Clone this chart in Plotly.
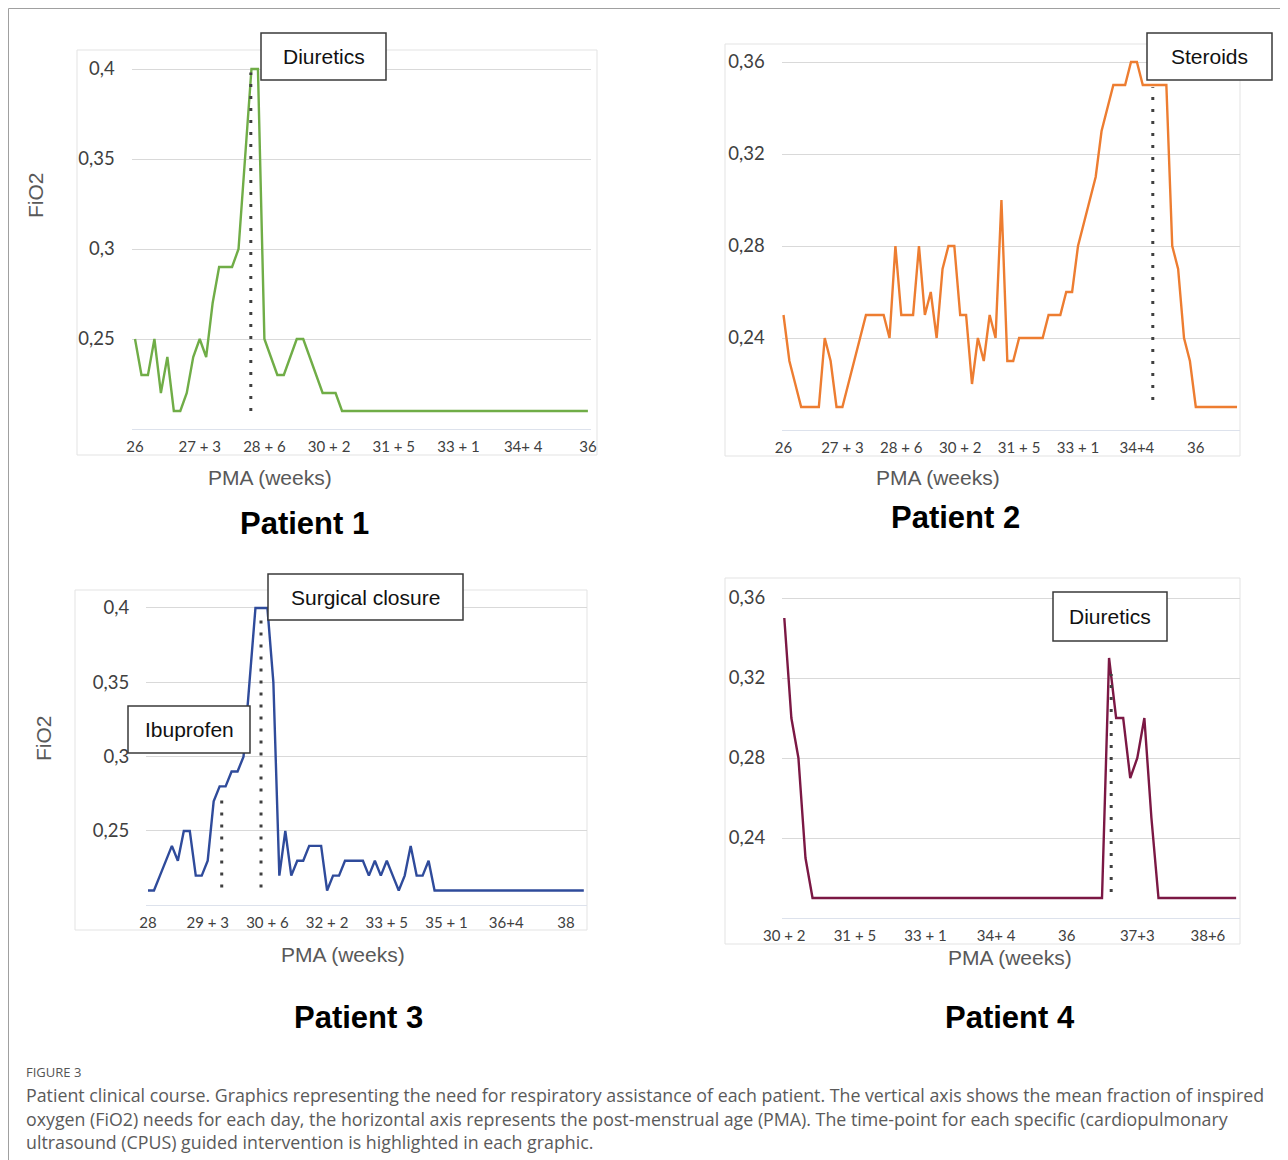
import plotly.graph_objects as go

# the page body adds an 8px margin; the figure is sized and laid out to compensate
OFF = 8
W, H = 1288 - OFF, 1160 - OFF

# ---------------- data ----------------
p1_ticks = ["26", "27 + 3", "28 + 6", "30 + 2", "31 + 5", "33 + 1", "34+ 4", "36"]
p2_ticks = ["26", "27 + 3", "28 + 6", "30 + 2", "31 + 5", "33 + 1", "34+4", "36"]
p3_ticks = ["28", "29 + 3", "30 + 6", "32 + 2", "33 + 5", "35 + 1", "36+4", "38"]
p4_ticks = ["30 + 2", "31 + 5", "33 + 1", "34+ 4", "36", "37+3", "38+6"]

p1_fio2 = [0.25, 0.23, 0.23, 0.25, 0.22, 0.24, 0.21, 0.21, 0.22, 0.24,
           0.25, 0.24, 0.27, 0.29, 0.29, 0.29, 0.30, 0.35, 0.40, 0.40,
           0.25, 0.24, 0.23, 0.23, 0.24, 0.25, 0.25, 0.24, 0.23, 0.22,
           0.22, 0.22, 0.21, 0.21, 0.21, 0.21, 0.21, 0.21, 0.21, 0.21,
           0.21, 0.21, 0.21, 0.21, 0.21, 0.21, 0.21, 0.21, 0.21, 0.21,
           0.21, 0.21, 0.21, 0.21, 0.21, 0.21, 0.21, 0.21, 0.21, 0.21,
           0.21, 0.21, 0.21, 0.21, 0.21, 0.21, 0.21, 0.21, 0.21, 0.21,
           0.21]

p2_fio2 = [0.25, 0.23, 0.22, 0.21, 0.21, 0.21, 0.21, 0.24, 0.23, 0.21,
           0.21, 0.22, 0.23, 0.24, 0.25, 0.25, 0.25, 0.25, 0.24, 0.28,
           0.25, 0.25, 0.25, 0.28, 0.25, 0.26, 0.24, 0.27, 0.28, 0.28,
           0.25, 0.25, 0.22, 0.24, 0.23, 0.25, 0.24, 0.30, 0.23, 0.23,
           0.24, 0.24, 0.24, 0.24, 0.24, 0.25, 0.25, 0.25, 0.26, 0.26,
           0.28, 0.29, 0.30, 0.31, 0.33, 0.34, 0.35, 0.35, 0.35, 0.36,
           0.36, 0.35, 0.35, 0.35, 0.35, 0.35, 0.28, 0.27, 0.24, 0.23,
           0.21, 0.21, 0.21, 0.21, 0.21, 0.21, 0.21, 0.21]

p3_fio2 = [0.21, 0.21, 0.22, 0.23, 0.24, 0.23, 0.25, 0.25, 0.22, 0.22,
           0.23, 0.27, 0.28, 0.28, 0.29, 0.29, 0.30, 0.35, 0.40, 0.40,
           0.40, 0.35, 0.22, 0.25, 0.22, 0.23, 0.23, 0.24, 0.24, 0.24,
           0.21, 0.22, 0.22, 0.23, 0.23, 0.23, 0.23, 0.22, 0.23, 0.22,
           0.23, 0.22, 0.21, 0.22, 0.24, 0.22, 0.22, 0.23, 0.21, 0.21,
           0.21, 0.21, 0.21, 0.21, 0.21, 0.21, 0.21, 0.21, 0.21, 0.21,
           0.21, 0.21, 0.21, 0.21, 0.21, 0.21, 0.21, 0.21, 0.21, 0.21,
           0.21, 0.21, 0.21, 0.21]

p4_fio2 = [0.35, 0.30, 0.28, 0.23, 0.21, 0.21, 0.21, 0.21, 0.21, 0.21,
           0.21, 0.21, 0.21, 0.21, 0.21, 0.21, 0.21, 0.21, 0.21, 0.21,
           0.21, 0.21, 0.21, 0.21, 0.21, 0.21, 0.21, 0.21, 0.21, 0.21,
           0.21, 0.21, 0.21, 0.21, 0.21, 0.21, 0.21, 0.21, 0.21, 0.21,
           0.21, 0.21, 0.21, 0.21, 0.21, 0.21, 0.33, 0.30, 0.30, 0.27,
           0.28, 0.30, 0.25, 0.21, 0.21, 0.21, 0.21, 0.21, 0.21, 0.21,
           0.21, 0.21, 0.21, 0.21, 0.21]

# interventions: (panel, day, y from, y to, label)
interventions = [
    (1, 17.9, 0.21, 0.398, "Diuretics"),
    (2, 62.7, 0.213, 0.349, "Steroids"),
    (3, 12.35, 0.212, 0.276, "Ibuprofen"),
    (3, 18.93, 0.212, 0.397, "Surgical closure"),
    (4, 46.3, 0.213, 0.322, "Diuretics"),
]

colors = {1: "#70ad47", 2: "#ed7d31", 3: "#2f4b9b", 4: "#7b1844"}

# ---------------- layout geometry (pixel mapping, target-page pixels) ----------------
geom = {
    1: dict(x0=135.0, k=6.47, xr=[-0.5, 70.5], yref=339.0, vref=0.25, s=1800.0, yr=[0.2, 0.405]),
    2: dict(x0=783.5, k=5.89, xr=[-0.3, 77.5], yref=338.0, vref=0.24, s=2300.0, yr=[0.2, 0.362]),
    3: dict(x0=148.0, k=5.97, xr=[-0.3, 73.5], yref=831.0, vref=0.25, s=1487.0, yr=[0.2, 0.403]),
    4: dict(x0=784.3, k=7.06, xr=[-0.3, 64.5], yref=838.0, vref=0.24, s=2000.0, yr=[0.2, 0.362]),
}

ticks = {
    1: (list(range(0, 71, 10)), p1_ticks, [0.25, 0.3, 0.35, 0.4], ["0,25", "0,3", "0,35", "0,4"]),
    2: (list(range(0, 71, 10)), p2_ticks, [0.24, 0.28, 0.32, 0.36], ["0,24", "0,28", "0,32", "0,36"]),
    3: (list(range(0, 71, 10)), p3_ticks, [0.25, 0.3, 0.35, 0.4], ["0,25", "0,3", "0,35", "0,4"]),
    4: (list(range(0, 61, 10)), p4_ticks, [0.24, 0.28, 0.32, 0.36], ["0,24", "0,28", "0,32", "0,36"]),
}

series = {1: p1_fio2, 2: p2_fio2, 3: p3_fio2, 4: p4_fio2}

fig = go.Figure()
layout = dict(width=W, height=H, autosize=False,
              margin=dict(l=0, r=0, t=0, b=0, pad=0, autoexpand=False),
              paper_bgcolor="white", plot_bgcolor="white", showlegend=False)

TICKFONT = "Lato, Carlito, Calibri, sans-serif"
ARIAL = "Liberation Sans, Arial, Helvetica, sans-serif"


def fx(xp):
    return (xp - OFF) / W


def fy(yp):
    return 1 - (yp - OFF) / H


def px(xp, yp):
    return fx(xp), fy(yp)


for p in range(1, 5):
    g = geom[p]
    xd = [fx(g["x0"] + g["k"] * g["xr"][0]), fx(g["x0"] + g["k"] * g["xr"][1])]
    yd = [fy(g["yref"] - g["s"] * (g["yr"][0] - g["vref"])),
          fy(g["yref"] - g["s"] * (g["yr"][1] - g["vref"]))]
    sfx = "" if p == 1 else str(p)
    xv, xt, yv, yt = ticks[p]
    layout["xaxis" + sfx] = dict(domain=xd, range=g["xr"], anchor="y" + sfx, automargin=False,
                                 tickvals=xv, ticktext=xt, showgrid=False, zeroline=False,
                                 showline=True, linecolor="#dde2ec", linewidth=1,
                                 ticks="", ticklabelstandoff=4,
                                 tickfont=dict(family=TICKFONT, size=15, color="#404040"))
    layout["yaxis" + sfx] = dict(domain=yd, range=g["yr"], anchor="x" + sfx, automargin=False,
                                 tickvals=yv, ticktext=yt, showgrid=True, gridcolor="#d9d9d9",
                                 gridwidth=1, zeroline=False, showline=False,
                                 ticks="", ticklabelstandoff=16,
                                 tickfont=dict(family=TICKFONT, size=18.5, color="#404040"))
    days = list(range(len(series[p])))
    fig.add_trace(go.Scatter(x=days, y=series[p], mode="lines",
                             line=dict(color=colors[p], width=2.4),
                             xaxis="x" + sfx, yaxis="y" + sfx, cliponaxis=False,
                             hoverinfo="skip"))

shapes = []
annotations = []

# outer frame (left and top edges)
shapes.append(dict(type="path", xref="paper", yref="paper",
                   path=f"M {fx(8.5)} 0 L {fx(8.5)} {fy(8.5)} L 1 {fy(8.5)}",
                   line=dict(color="#a0a0a0", width=1)))

# chart area boxes
for (l, t, r, b) in [(77, 50, 597, 455), (725, 44, 1240, 456), (75, 590, 587, 930), (725, 578, 1240, 944)]:
    x0, y0 = px(l, b)
    x1, y1 = px(r, t)
    shapes.append(dict(type="rect", xref="paper", yref="paper", x0=x0, y0=y0, x1=x1, y1=y1,
                       line=dict(color="#e3e3e3", width=1), fillcolor="rgba(0,0,0,0)", layer="below"))

# dotted intervention lines
for (p, d, ya, yb, lab) in interventions:
    sfx = "" if p == 1 else str(p)
    shapes.append(dict(type="line", xref="x" + sfx, yref="y" + sfx, x0=d, x1=d, y0=ya, y1=yb,
                       line=dict(color="#404040", width=3, dash="3px,9px")))

# label boxes
for (lab, l, t, r, b) in [("Diuretics", 261, 33, 386, 80), ("Steroids", 1147, 33, 1272, 80),
                          ("Surgical closure", 268, 574, 463, 620), ("Ibuprofen", 128, 706, 250, 753),
                          ("Diuretics", 1053, 592, 1167, 641)]:
    x0, y0 = px(l, b)
    x1, y1 = px(r, t)
    shapes.append(dict(type="rect", xref="paper", yref="paper", x0=x0, y0=y0, x1=x1, y1=y1,
                       line=dict(color="#3a3a3a", width=1.5), fillcolor="white", layer="above"))
    cx, cy = px((l + r) / 2, (t + b) / 2)
    annotations.append(dict(text=lab, x=cx, y=cy, xref="paper", yref="paper", showarrow=False,
                            xanchor="center", yanchor="middle",
                            font=dict(family=ARIAL, size=21, color="#111111")))

# axis titles
for (xp, yp) in [(270, 477), (938, 477), (343, 954), (1010, 957)]:
    x, y = px(xp, yp)
    annotations.append(dict(text="PMA (weeks)", x=x, y=y, xref="paper", yref="paper", showarrow=False,
                            xanchor="center", yanchor="middle",
                            font=dict(family=ARIAL, size=21, color="#595959")))
for (xp, yp) in [(36, 195), (43, 738)]:
    x, y = px(xp, yp)
    annotations.append(dict(text="FiO2", x=x, y=y, xref="paper", yref="paper", showarrow=False,
                            textangle=-90, xanchor="center", yanchor="middle",
                            font=dict(family=ARIAL, size=21, color="#595959")))

# patient titles
for (t, xp, yp) in [("Patient 1", 304, 523), ("Patient 2", 955, 517),
                    ("Patient 3", 358, 1017), ("Patient 4", 1010, 1017)]:
    x, y = px(xp, yp)
    annotations.append(dict(text="<b>" + t + "</b>", x=x, y=y, xref="paper", yref="paper",
                            showarrow=False, xanchor="center", yanchor="middle",
                            font=dict(family=ARIAL, size=31, color="#000000")))

# caption
x, y = px(24, 1072)
annotations.append(dict(text="FIGURE 3", x=x, y=y, xref="paper", yref="paper", showarrow=False,
                        xanchor="left", yanchor="middle",
                        font=dict(family="Open Sans, sans-serif", size=13, color="#555555")))
cap_lines = [
    "Patient clinical course. Graphics representing the need for respiratory assistance of each patient. The vertical axis shows the mean fraction of inspired",
    "oxygen (FiO2) needs for each day, the horizontal axis represents the post-menstrual age (PMA). The time-point for each specific (cardiopulmonary",
    "ultrasound (CPUS) guided intervention is highlighted in each graphic.",
]
for i, line in enumerate(cap_lines):
    x, y = px(24, 1095 + 23.5 * i)
    annotations.append(dict(text=line, x=x, y=y, xref="paper", yref="paper", showarrow=False,
                            xanchor="left", yanchor="middle",
                            font=dict(family="Open Sans, sans-serif", size=17.8, color="#5a5a5a")))

layout["shapes"] = shapes
layout["annotations"] = annotations
fig.update_layout(**layout)
fig.write_html("out.html")
